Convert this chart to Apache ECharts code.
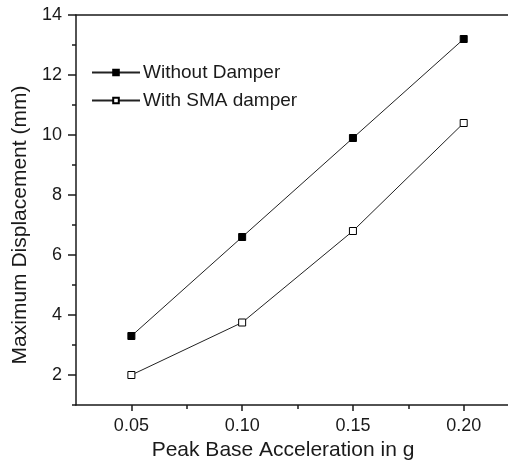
<!DOCTYPE html>
<html><head><meta charset="utf-8">
<script src="https://cdn.jsdelivr.net/npm/echarts@6/dist/echarts.min.js"></script>
<style>html,body{margin:0;padding:0;background:#fff}#c{width:508px;height:463px}</style>
</head><body><div id="c"></div>
<script>
const xValues = [0.05, 0.10, 0.15, 0.20];
const withoutDamper = [3.3, 6.6, 9.9, 13.2];
const withSMA = [2.0, 3.75, 6.8, 10.4];
const xTickLabels = [0.05, 0.10, 0.15, 0.20];
const xMinorTicks = [0.075, 0.125, 0.175];
const yTickLabels = [2, 4, 6, 8, 10, 12, 14];
const yMinorTicks = [1, 3, 5, 7, 9, 11, 13];
const seriesNames = ['Without Damper', 'With SMA damper'];

const FONT = '"Liberation Sans", Arial, sans-serif';
const INK = '#1a1a1a';
const chart = echarts.init(document.getElementById('c'), null, {renderer: 'canvas'});
const pair = (xs, ys) => xs.map((x, i) => [x, ys[i]]);
chart.setOption({
  animation: false,
  backgroundColor: '#fff',
  grid: {left: 76, top: 15, right: 0, bottom: 58, containLabel: false, outerBoundsMode: 'none'},
  legend: {
    orient: 'vertical', left: 86, top: 58, itemGap: 9, itemWidth: 48, itemHeight: 7,
    textStyle: {fontFamily: FONT, fontSize: 19, color: INK, padding: [0, 0, 0, -2]},
    data: seriesNames
  },
  xAxis: [{
    type: 'value', min: 0.025, max: 0.22, position: 'bottom',
    name: 'Peak Base Acceleration in g', nameLocation: 'middle', nameGap: 35,
    nameTextStyle: {fontFamily: FONT, fontSize: 21, color: INK, padding: [0, 18, 0, 0]},
    axisLine: {show: true, lineStyle: {color: INK, width: 1.5}},
    axisTick: {show: true, inside: false, length: 6, lineStyle: {color: INK, width: 1.5}, customValues: xTickLabels},
    axisLabel: {fontFamily: FONT, fontSize: 18, color: INK, margin: 12, customValues: xTickLabels, formatter: v => v.toFixed(2)},
    splitLine: {show: false}
  }, {
    type: 'value', min: 0.025, max: 0.22, position: 'bottom',
    axisLine: {show: false},
    axisTick: {show: true, length: 4, lineStyle: {color: INK, width: 1.5}, customValues: xMinorTicks},
    axisLabel: {show: false}, splitLine: {show: false}
  }, {
    type: 'value', min: 0.025, max: 0.22, position: 'top',
    axisLine: {show: true, lineStyle: {color: INK, width: 1.5}},
    axisTick: {show: false}, axisLabel: {show: false}, splitLine: {show: false}
  }],
  yAxis: [{
    type: 'value', min: 1, max: 14, position: 'left',
    name: 'Maximum Displacement (mm)', nameLocation: 'middle', nameGap: 39,
    nameTextStyle: {fontFamily: FONT, fontSize: 21, color: INK, padding: [0, 30, 0, 0]},
    axisLine: {show: true, lineStyle: {color: INK, width: 1.5}},
    axisTick: {show: true, length: 8, lineStyle: {color: INK, width: 1.5}, customValues: yTickLabels},
    axisLabel: {fontFamily: FONT, fontSize: 18, color: INK, margin: 14, customValues: yTickLabels},
    splitLine: {show: false}
  }, {
    type: 'value', min: 1, max: 14, position: 'left',
    axisLine: {show: false},
    axisTick: {show: true, length: 4, lineStyle: {color: INK, width: 1.5}, customValues: yMinorTicks},
    axisLabel: {show: false}, splitLine: {show: false}
  }],
  series: [{
    name: seriesNames[0], type: 'line', data: pair(xValues, withoutDamper),
    symbol: 'rect', symbolSize: 7, showAllSymbol: true,
    lineStyle: {color: '#222', width: 1},
    itemStyle: {color: '#000', borderColor: '#000', borderWidth: 1}
  }, {
    name: seriesNames[1], type: 'line', data: pair(xValues, withSMA),
    symbol: 'rect', symbolSize: 7, showAllSymbol: true,
    lineStyle: {color: '#222', width: 1},
    itemStyle: {color: '#fff', borderColor: '#000', borderWidth: 1}
  }]
});
</script></body></html>
